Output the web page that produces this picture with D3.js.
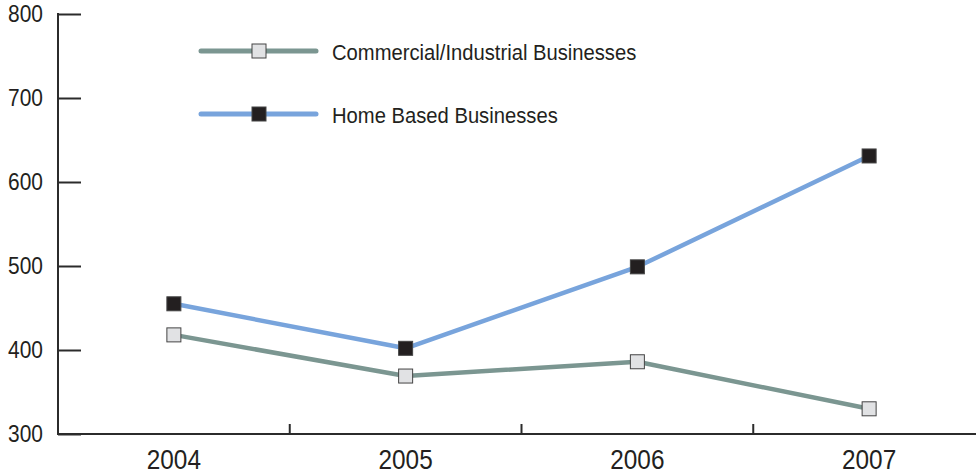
<!DOCTYPE html>
<html>
<head>
<meta charset="utf-8">
<script src="https://cdn.jsdelivr.net/npm/d3@7"></script>
<style>
  body { margin: 0; background: #fff; }
  svg { display: block; font-family: "Liberation Sans", Arial, sans-serif; }
</style>
</head>
<body>
<svg id="chart" width="976" height="472"></svg>
<script>
// data
const years = ['2004', '2005', '2006', '2007'];
const commercial = [418, 369, 386, 330];
const homeBased = [455, 402, 499, 631];
const yTicks = [300, 400, 500, 600, 700, 800];

const series = [
    { name: 'Commercial/Industrial Businesses', values: commercial, line: '#7b9691', fill: '#e1e2e4' },
    { name: 'Home Based Businesses', values: homeBased, line: '#78a4dc', fill: '#231f20' }
];

const svg = d3.select('#chart');
const plotLeft = 58, plotRight = 985, plotTop = 14, plotBottom = 434;

const x = d3.scaleBand().domain(years).range([plotLeft, plotRight]);
const y = d3.scaleLinear().domain([300, 800]).range([plotBottom, plotTop]);

// y axis
const yAxis = svg.append('g')
    .attr('transform', `translate(${plotLeft},0)`)
    .call(d3.axisRight(y).tickValues(yTicks).tickSize(23).tickFormat(''));
yAxis.select('.domain').remove();
yAxis.selectAll('.tick line').attr('stroke', '#2b2b2b').attr('stroke-width', 2);
svg.append('line')
    .attr('x1', plotLeft).attr('x2', plotLeft).attr('y1', y(800) - 1).attr('y2', plotBottom)
    .attr('stroke', '#2b2b2b').attr('stroke-width', 2);

// condensed look: squeeze the glyphs horizontally
svg.append('g').selectAll('text')
    .data(yTicks)
    .enter().append('text')
    .attr('transform', d => `translate(43,${y(d) + 8}) scale(0.91,1)`)
    .attr('text-anchor', 'end')
    .attr('font-size', 23)
    .attr('fill', '#231f20')
    .text(d => d);

// x axis
svg.append('line')
    .attr('x1', plotLeft - 1).attr('x2', 976).attr('y1', plotBottom).attr('y2', plotBottom)
    .attr('stroke', '#2b2b2b').attr('stroke-width', 2);
svg.append('g').selectAll('line')
    .data(years.slice(1))
    .enter().append('line')
    .attr('x1', d => x(d)).attr('x2', d => x(d))
    .attr('y1', plotBottom).attr('y2', plotBottom - 10)
    .attr('stroke', '#2b2b2b').attr('stroke-width', 2);
svg.append('g').selectAll('text')
    .data(years)
    .enter().append('text')
    .attr('transform', d => `translate(${x(d) + x.bandwidth() / 2},469) scale(0.87,1)`)
    .attr('text-anchor', 'middle')
    .attr('font-size', 28)
    .attr('fill', '#231f20')
    .text(d => d);

// lines + markers
const line = d3.line()
    .x((d, i) => x(years[i]) + x.bandwidth() / 2)
    .y(d => y(d));

series.forEach(s => {
    svg.append('path')
        .attr('d', line(s.values))
        .attr('fill', 'none')
        .attr('stroke', s.line)
        .attr('stroke-width', 4.5)
        .attr('stroke-linejoin', 'round');
    svg.append('g').selectAll('rect')
        .data(s.values)
        .enter().append('rect')
        .attr('x', (d, i) => x(years[i]) + x.bandwidth() / 2 - 7)
        .attr('y', d => y(d) - 7)
        .attr('width', 14).attr('height', 14)
        .attr('fill', s.fill)
        .attr('stroke', '#444')
        .attr('stroke-width', 1);
});

// legend
const legend = svg.append('g').selectAll('g')
    .data(series)
    .enter().append('g')
    .attr('transform', (d, i) => `translate(0,${51 + i * 63})`);
legend.append('line')
    .attr('x1', 201).attr('x2', 316)
    .attr('stroke', d => d.line).attr('stroke-width', 5).attr('stroke-linecap', 'round');
legend.append('rect')
    .attr('x', 252).attr('y', -7).attr('width', 14).attr('height', 14)
    .attr('fill', d => d.fill).attr('stroke', '#444').attr('stroke-width', 1);
legend.append('text')
    .attr('transform', 'translate(332,9) scale(0.94,1)')
    .attr('font-size', 21.5)
    .attr('fill', '#231f20')
    .text(d => d.name);
</script>
</body>
</html>
